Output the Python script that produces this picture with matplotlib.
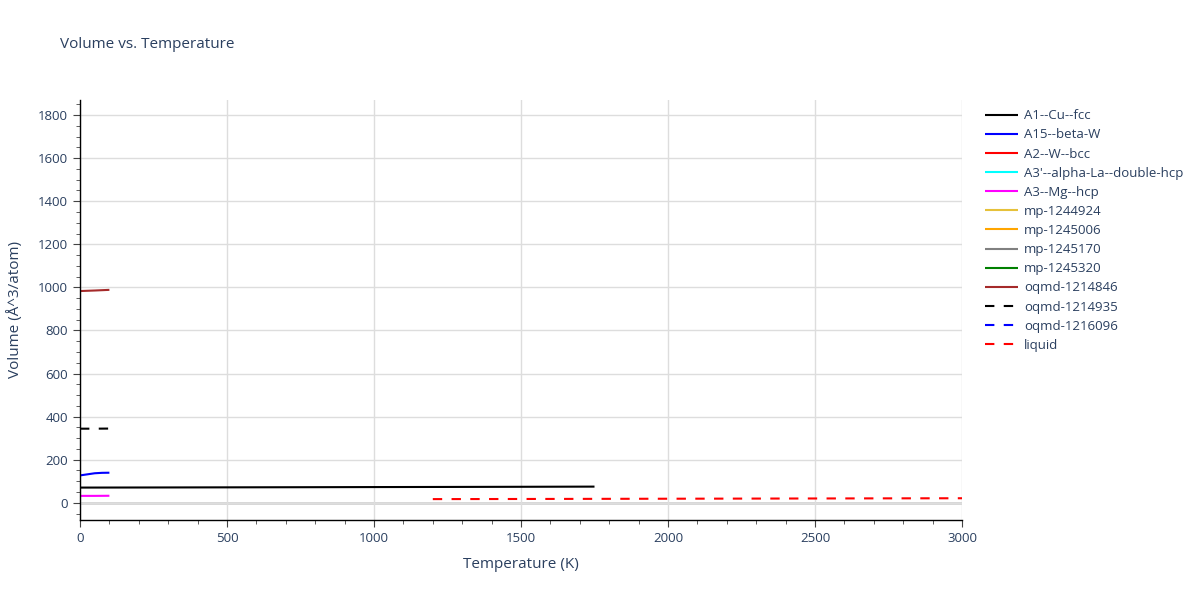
import matplotlib
matplotlib.use("Agg")
import matplotlib.pyplot as plt
from matplotlib.ticker import MultipleLocator

plt.rcParams['font.family'] = ['Open Sans', 'DejaVu Sans']

# ---- data ----
cu_fcc_T = [0, 250, 500, 750, 1000, 1250, 1500, 1750]
cu_fcc_V = [70.5, 71.0, 71.6, 72.2, 72.9, 73.5, 74.2, 75.0]

beta_w_T = [0, 25, 50, 75, 100]
beta_w_V = [127, 132, 137, 139, 139.5]

mg_hcp_T = [0, 50, 100]
mg_hcp_V = [32, 32, 32.5]

oqmd846_T = [0, 50, 100]
oqmd846_V = [983, 985.5, 988.5]

oqmd935_T = [0, 50, 100]
oqmd935_V = [344, 344, 344.5]

liquid_T = [1200, 1500, 1800, 2100, 2400, 2700, 3000]
liquid_V = [17.0, 17.6, 18.3, 19.0, 19.7, 20.4, 21.0]

series = [
    ("A1--Cu--fcc", "black", "-", cu_fcc_T, cu_fcc_V),
    ("A15--beta-W", "blue", "-", beta_w_T, beta_w_V),
    ("A2--W--bcc", "red", "-", [], []),
    ("A3'--alpha-La--double-hcp", "cyan", "-", [], []),
    ("A3--Mg--hcp", "magenta", "-", mg_hcp_T, mg_hcp_V),
    ("mp-1244924", "#e6c13a", "-", [], []),
    ("mp-1245006", "orange", "-", [], []),
    ("mp-1245170", "gray", "-", [], []),
    ("mp-1245320", "green", "-", [], []),
    ("oqmd-1214846", "brown", "-", oqmd846_T, oqmd846_V),
    ("oqmd-1214935", "black", "--", oqmd935_T, oqmd935_V),
    ("oqmd-1216096", "blue", "--", [], []),
    ("liquid", "red", "--", liquid_T, liquid_V),
]

txt = "#2a3f5f"
fig = plt.figure(figsize=(12, 6), dpi=100)
ax = fig.add_axes([80/1200, 80/600, 882/1200, 420/600])

handles = []
for name, c, ls, T, V in series:
    kw = dict(color=c, lw=1.5)
    if ls == "--":
        ln, = ax.plot(T, V, linestyle=(0, (4.5, 4.5)), **kw, label=name)
    else:
        ln, = ax.plot(T, V, **kw, label=name)
    ln.set_solid_capstyle('butt')
    ln.set_dash_capstyle('butt')
    handles.append(ln)

ax.set_xlim(0, 3000)
ax.set_ylim(-80, 1870)
ax.xaxis.set_major_locator(MultipleLocator(500))
ax.xaxis.set_minor_locator(MultipleLocator(100))
ax.yaxis.set_major_locator(MultipleLocator(200))
ax.yaxis.set_minor_locator(MultipleLocator(50))

ax.grid(True, which='major', color='#dddddd', lw=1)
ax.set_axisbelow(True)
ax.axhline(0, color='#cccccc', lw=1.8, zorder=0.5)

for s in ['top', 'right']:
    ax.spines[s].set_visible(False)
for s in ['left', 'bottom']:
    ax.spines[s].set_color('black')
    ax.spines[s].set_linewidth(1)

ax.tick_params(which='major', direction='out', length=5, color='#444444',
               labelcolor=txt, labelsize=9.5)
ax.tick_params(which='minor', direction='out', length=3, color='#444444')

ax.set_xlabel("Temperature (K)", color=txt, fontsize=11, labelpad=9)
ax.set_ylabel("Volume (Å^3/atom)", color=txt, fontsize=11, labelpad=11)

fig.text(60/1200, 1 - 45/600, "Volume vs. Temperature", color=txt,
         fontsize=11, va='center', ha='left')

leg = fig.legend(handles=handles, loc='upper left',
                 bbox_to_anchor=(980/1200, 1 - 104/600),
                 frameon=False, fontsize=9.5, labelcolor=txt,
                 handlelength=2.5, handletextpad=0.45, labelspacing=0.465,
                 borderaxespad=0)

fig.savefig("out.png", dpi=100)
